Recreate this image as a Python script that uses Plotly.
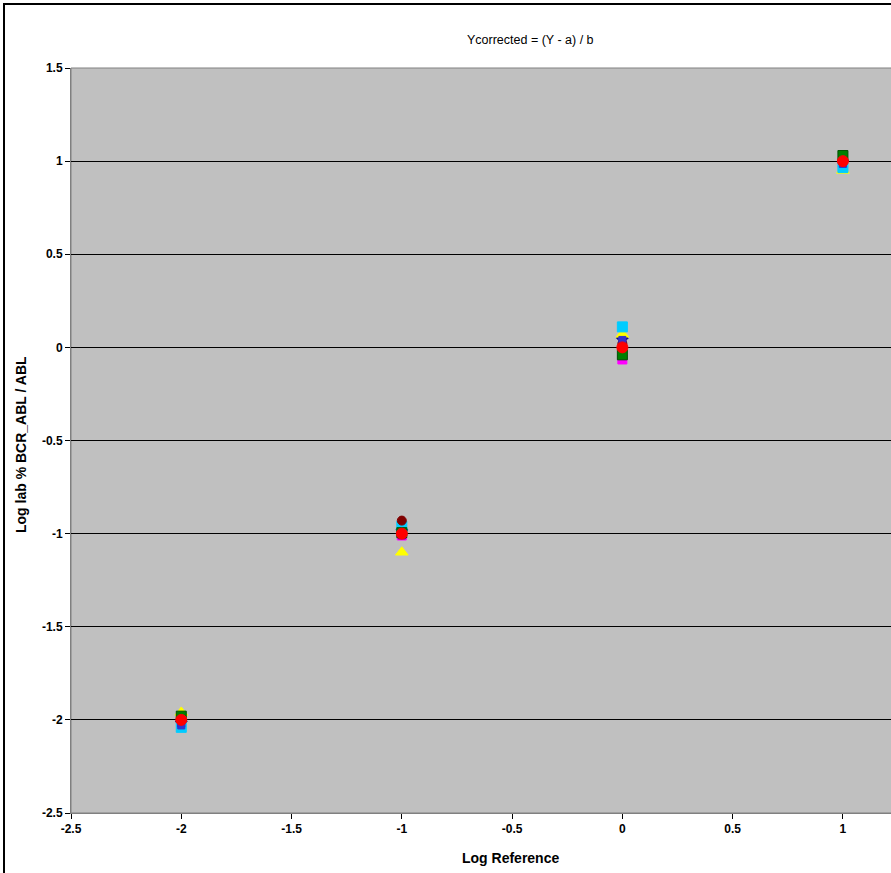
import plotly.graph_objects as go

x_ref = [-2, -1, 0, 1]

navy_diamond = [-2.01, -0.98, 0.05, 1.00]
magenta_square = [-2.02, -1.01, -0.065, 0.99]
yellow_triangle = [-1.96, -1.10, 0.07, 0.95]
cyan_square = [-2.04, -0.96, 0.11, 0.965]
purple_star = [-2.02, -1.01, 0.03, 0.99]
maroon_circle = [-2.00, -0.93, 0.02, 1.00]
blue_dash = [-2.03, -0.99, 0.04, 0.985]
green_square = [-1.98, -0.995, -0.04, 1.03]
red_mean = [-2.00, -1.00, 0.00, 1.00]

y_ticks = [1.5, 1, 0.5, 0, -0.5, -1, -1.5, -2, -2.5]
x_ticks = [-2.5, -2, -1.5, -1, -0.5, 0, 0.5, 1]

series = [
    ("navy", navy_diamond, "diamond", "#000080", 9),
    ("magenta", magenta_square, "square", "#FF00FF", 9),
    ("yellow", yellow_triangle, "triangle-up", "#FFFF00", 11),
    ("cyan", cyan_square, "square", "#00CCFF", 10),
    ("purple", purple_star, "square", "#800080", 7),
    ("maroon", maroon_circle, "circle", "#800000", 9),
    ("blue", blue_dash, "square", "#3333CC", 7),
    ("green", green_square, "square", "#008000", 10),
    ("red", red_mean, "circle", "#FF0000", 11),
]

fig = go.Figure()
for name, ys, sym, col, sz in series:
    line_col = "#005000" if name == "green" else col
    fig.add_trace(go.Scatter(
        x=x_ref, y=ys, mode="markers", name=name,
        marker=dict(symbol=sym, color=col, size=sz, line=dict(color=line_col, width=1)),
    ))

W, H = 891, 873
L, T, B = 71, 68, 60
pw = W - L
ph = H - T - B

def px_x(px):
    return (px - L) / pw

def px_y(py):
    return 1 - (py - T) / ph

fig.update_layout(
    width=W, height=H,
    margin=dict(l=L, r=0, t=T, b=B),
    paper_bgcolor="white",
    plot_bgcolor="#C0C0C0",
    showlegend=False,
    font=dict(family="Liberation Sans, Arial, sans-serif", color="black"),
)
fig.update_xaxes(
    range=[-2.5, 1.218], tickvals=x_ticks, ticktext=[str(v) for v in x_ticks],
    showgrid=False, zeroline=False, showline=True, linecolor="#808080", linewidth=1,
    ticks="outside", ticklen=5, tickcolor="black",
    tickfont=dict(size=12, family="Liberation Sans, Arial", weight="bold"),
)
fig.update_yaxes(
    range=[-2.5, 1.5], tickvals=y_ticks, ticktext=[str(v) for v in y_ticks],
    showgrid=True, gridcolor="black", gridwidth=1, zeroline=False,
    showline=True, linecolor="#808080", linewidth=1,
    ticks="outside", ticklen=5, tickcolor="black",
    tickfont=dict(size=12, family="Liberation Sans, Arial", weight="bold"),
)

# outer chart frame (only left and top visible in the crop)
fig.add_shape(type="rect", xref="paper", yref="paper",
              x0=px_x(4), x1=px_x(920),
              y0=px_y(900), y1=px_y(4),
              line=dict(color="black", width=2), fillcolor="rgba(0,0,0,0)", layer="above")
# plot area border
fig.add_shape(type="rect", xref="paper", yref="paper", x0=0, x1=1.2, y0=0, y1=1,
              line=dict(color="#808080", width=1), fillcolor="rgba(0,0,0,0)", layer="below")

fig.add_annotation(text="Ycorrected = (Y - a) / b", xref="paper", yref="paper",
                   x=px_x(530), y=px_y(40), showarrow=False,
                   font=dict(size=12.5, family="Liberation Sans, Arial"), xanchor="center", yanchor="middle")
fig.add_annotation(text="<b>Log Reference</b>", xref="paper", yref="paper",
                   x=px_x(510), y=px_y(858), showarrow=False,
                   font=dict(size=14, family="Liberation Sans, Arial"), xanchor="center", yanchor="middle")
fig.add_annotation(text="<b>Log lab % BCR_ABL / ABL</b>", xref="paper", yref="paper",
                   x=px_x(21), y=px_y(445), showarrow=False, textangle=-90,
                   font=dict(size=14, family="Liberation Sans, Arial"), xanchor="center", yanchor="middle")

fig.write_html("out.html",
               config={"displayModeBar": False},
               post_script="document.body.style.margin='0';document.body.style.overflow='hidden';")
